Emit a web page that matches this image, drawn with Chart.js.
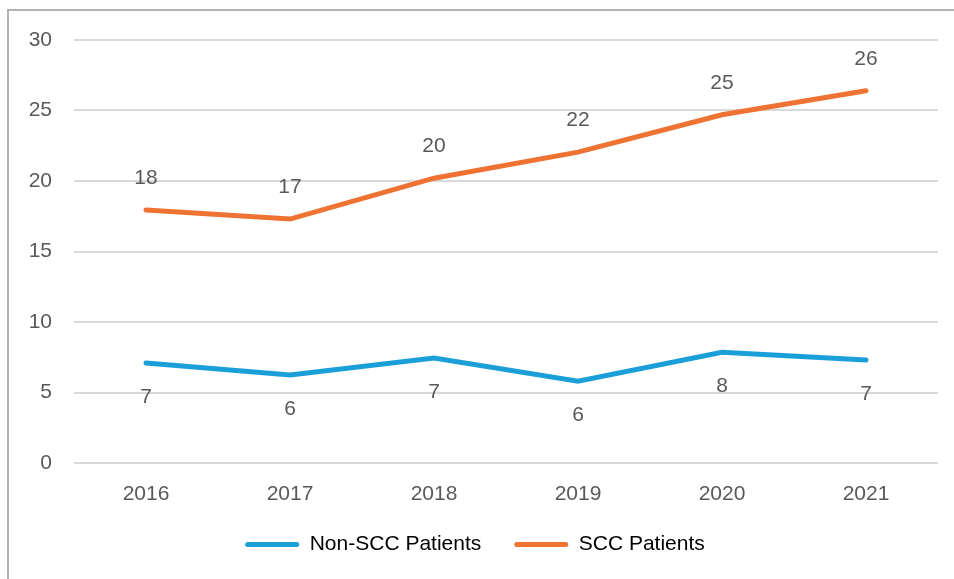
<!DOCTYPE html>
<html>
<head>
<meta charset="utf-8">
<script src="https://cdn.jsdelivr.net/npm/chart.js@4/dist/chart.umd.min.js"></script>
<style>
  html, body { margin: 0; padding: 0; background: #fff; }
  #wrap { position: relative; width: 954px; height: 579px; }
  #frame {
    position: absolute; left: 7px; top: 9px; right: 0; bottom: 0;
    border-top: 2px solid #b3b3b3; border-left: 2px solid #b3b3b3;
    pointer-events: none;
  }
</style>
</head>
<body>
<div id="wrap">
  <canvas id="chart" width="954" height="579"></canvas>
  <div id="frame"></div>
</div>
<script>
const years = ["2016", "2017", "2018", "2019", "2020", "2021"];
const nonSccPatients = [7.1, 6.25, 7.45, 5.8, 7.85, 7.3];
const sccPatients = [17.95, 17.3, 20.2, 22.05, 24.7, 26.4];
const seriesNames = ["Non-SCC Patients", "SCC Patients"];
const seriesColors = ["#1a9fd9", "#ee7232"];

const TEXT = "#595959";
const FONT = "'Liberation Sans', Arial, sans-serif";

// draws the rounded value above (or below) each point
const valueLabels = {
  id: "valueLabels",
  afterDatasetsDraw(chart) {
    const ctx = chart.ctx;
    ctx.save();
    ctx.font = "21px " + FONT;
    ctx.fillStyle = TEXT;
    ctx.textAlign = "center";
    ctx.textBaseline = "middle";
    chart.data.datasets.forEach((ds, i) => {
      const meta = chart.getDatasetMeta(i);
      const shift = ds.labelAbove ? -32 : 34;
      meta.data.forEach((pt, j) => {
        ctx.fillText(Math.round(ds.data[j]), pt.x, pt.y + shift);
      });
    });
    ctx.restore();
  }
};

const chart = new Chart(document.getElementById("chart"), {
  type: "line",
  data: {
    labels: years,
    datasets: [
      {
        label: seriesNames[0],
        data: nonSccPatients,
        borderColor: seriesColors[0],
        backgroundColor: seriesColors[0],
        borderWidth: 5,
        pointRadius: 0,
        borderCapStyle: "round",
        labelAbove: false
      },
      {
        label: seriesNames[1],
        data: sccPatients,
        borderColor: seriesColors[1],
        backgroundColor: seriesColors[1],
        borderWidth: 5,
        pointRadius: 0,
        borderCapStyle: "round",
        labelAbove: true
      }
    ]
  },
  options: {
    responsive: false,
    animation: false,
    layout: { padding: { top: 40, right: 16, bottom: 11, left: 12 } },
    plugins: {
      tooltip: { enabled: false },
      legend: {
        position: "bottom",
        labels: {
          color: TEXT,
          font: { family: FONT, size: 21 },
          boxWidth: 54,
          boxHeight: 5,
          padding: 33,
          useBorderRadius: true,
          borderRadius: 2.5,
          generateLabels: chart => chart.data.datasets.map((ds, i) => ({
            text: ds.label,
            fillStyle: ds.borderColor,
            strokeStyle: ds.borderColor,
            lineWidth: 0,
            borderRadius: 2.5,
            datasetIndex: i
          }))
        }
      }
    },
    scales: {
      x: {
        offset: true,
        grid: { display: false, drawTicks: false },
        border: { display: false },
        ticks: { color: TEXT, font: { family: FONT, size: 21 }, padding: 19 },
        afterFit: s => { s.height = 38; }
      },
      y: {
        min: 0,
        max: 30,
        grid: { color: "#d9d9d9", lineWidth: 2, drawTicks: false },
        border: { display: false },
        ticks: { stepSize: 5, color: TEXT, font: { family: FONT, size: 21 }, padding: 22 },
        afterFit: s => { s.width = 62; }
      }
    }
  },
  plugins: [valueLabels]
});

// wide gap between legend items, but keep the legend box short
const legendFit = chart.legend.fit;
chart.legend.fit = function () {
  legendFit.call(this);
  this.height = 67;
};
chart.update();
</script>
</body>
</html>
